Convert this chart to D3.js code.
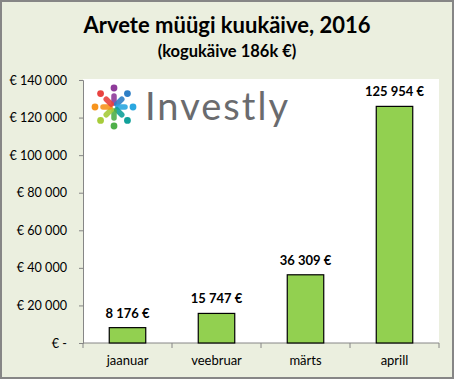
<!DOCTYPE html>
<html><head><meta charset="utf-8">
<script src="https://cdn.jsdelivr.net/npm/d3@7"></script>
<style>body{margin:0;background:#fff}svg{display:block}text{font-family:Lato,"Noto Sans",sans-serif}</style>
</head><body>
<script>
const categories = ["jaanuar","veebruar","märts","aprill"];
const values = [8176, 15747, 36309, 125954];
const labels = ["8 176 €","15 747 €","36 309 €","125 954 €"];
const yTicks = [0,20000,40000,60000,80000,100000,120000,140000];
const yTickLabels = ["€ -","€ 20 000","€ 40 000","€ 60 000","€ 80 000","€ 100 000","€ 120 000","€ 140 000"];
const title = "Arvete müügi kuukäive, 2016";
const subtitle = "(kogukäive 186k €)";
const logoColors = ["#8e3a9a","#2f7fc6","#2aa7e0","#11a19a","#4fb04a","#a7cc3a","#f7941d","#e94340"];

const W=454,H=379;
const svg=d3.select("body").append("svg").attr("width",W).attr("height",H);
svg.append("rect").attr("x",1).attr("y",1).attr("width",W-2).attr("height",H-2).attr("fill","#ebefdf").attr("stroke","#868686").attr("stroke-width",2);

const m={l:83,r:439,t:80,b:343};
svg.append("rect").attr("x",m.l).attr("y",79).attr("width",m.r-m.l).attr("height",m.b-79).attr("fill","#fff");

const x=d3.scaleBand().domain(categories).range([m.l,m.r]).paddingInner(0.59).paddingOuter(0.295);
const y=d3.scaleLinear().domain([0,140000]).range([m.b,m.t]);

svg.append("text").attr("x",227).attr("y",33).attr("text-anchor","middle").attr("font-weight","bold").attr("font-size",22).text(title);
svg.append("text").attr("x",227).attr("y",57).attr("text-anchor","middle").attr("font-weight","bold").attr("font-size",16.5).text(subtitle);

// logo
const lg=svg.append("g").attr("transform","translate(114,107)");
logoColors.forEach((c,i)=>{
  const a=-Math.PI/2+i*Math.PI/4;
  const ca=Math.cos(a),sa=Math.sin(a);
  lg.append("line").attr("x1",4*ca).attr("y1",4*sa).attr("x2",11*ca).attr("y2",11*sa).attr("stroke",c).attr("stroke-width",5.5).attr("stroke-linecap","round").attr("opacity",0.9);
  lg.append("circle").attr("cx",19*ca).attr("cy",19*sa).attr("r",3.4).attr("fill",c);
});
svg.append("text").attr("x",145).attr("y",120).attr("font-size",38).attr("font-weight",400).attr("fill","#6a6b6e").attr("font-family","Lato")
 .attr("textLength",143).attr("lengthAdjust","spacing").text("Investly");

// y axis
const ya=svg.append("g").attr("transform",`translate(${m.l},0)`).call(d3.axisLeft(y).tickValues(yTicks).tickSize(4).tickPadding(12).tickFormat((d,i)=>yTickLabels[i]));
ya.select(".domain").attr("stroke","#868686");
ya.selectAll(".tick line").attr("stroke","#868686");
ya.selectAll("text").attr("font-size",12.6).attr("font-family","Lato,sans-serif").attr("fill","#000");

// x axis
const xa=svg.append("g").attr("transform",`translate(0,${m.b})`).call(d3.axisBottom(x).tickSize(0).tickPadding(13));
xa.select(".domain").remove();
xa.append("line").attr("x1",m.l).attr("x2",m.r).attr("stroke","#868686");
d3.range(categories.length+1).forEach(i=>{
  const xx=m.l+i*(m.r-m.l)/categories.length;
  xa.append("line").attr("x1",xx).attr("x2",xx).attr("y1",0).attr("y2",5).attr("stroke","#868686");
});
xa.selectAll("text").attr("font-size",13).attr("font-family","Lato,sans-serif").attr("fill","#000");

// bars
svg.selectAll(".bar").data(values).join("rect").attr("class","bar")
 .attr("x",(d,i)=>x(categories[i])).attr("width",x.bandwidth())
 .attr("y",d=>y(d)).attr("height",d=>m.b-y(d))
 .attr("fill","#92d050").attr("stroke","#000").attr("stroke-width",1.2);
svg.selectAll(".lbl").data(values).join("text").attr("class","lbl")
 .attr("x",(d,i)=>x(categories[i])+x.bandwidth()/2).attr("y",d=>y(d)-10)
 .attr("text-anchor","middle").attr("font-weight","bold").attr("font-size",13)
 .text((d,i)=>labels[i]);
</script>
</body></html>
